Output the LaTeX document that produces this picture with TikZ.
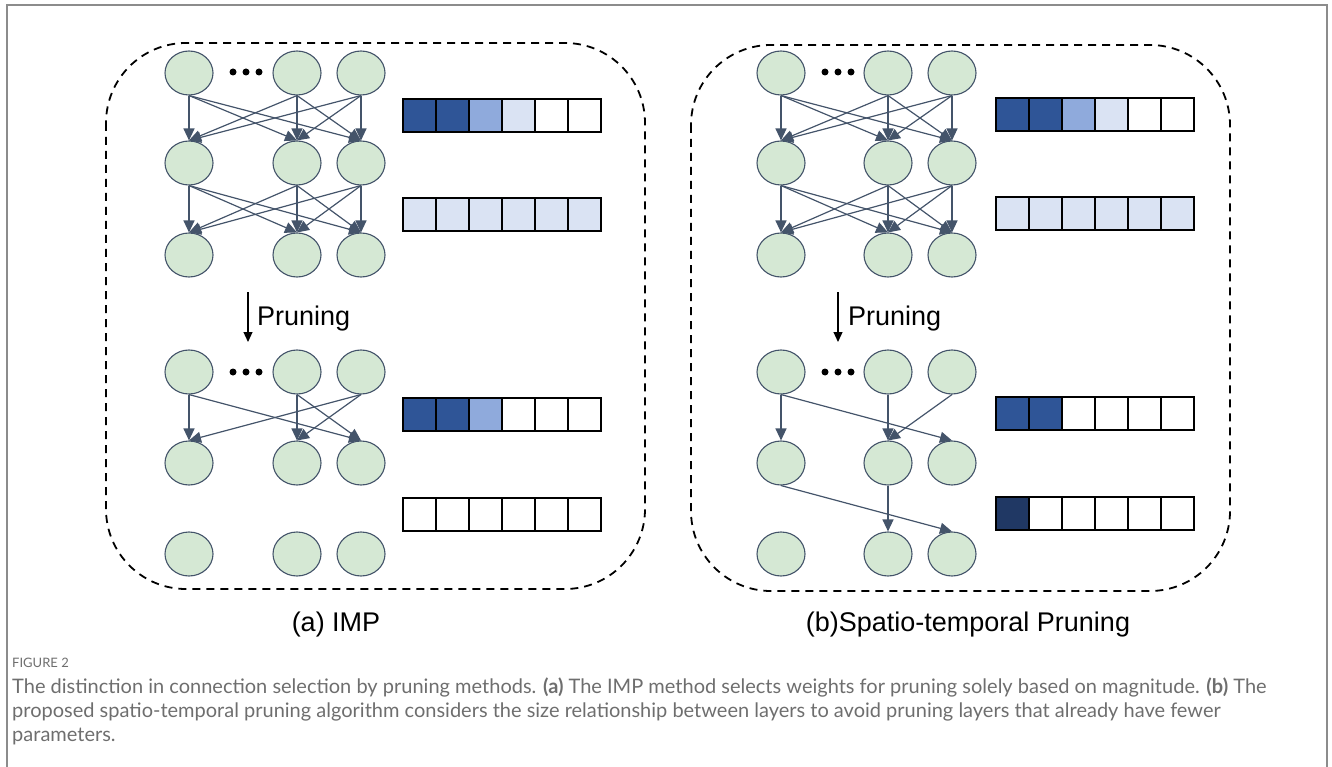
\documentclass[tikz,border=0pt]{standalone}
\usepackage{fontspec}
\setmainfont{Liberation Sans}
\newfontfamily\capfont{Lato}
\usetikzlibrary{shapes.geometric,arrows.meta}
\definecolor{nodegreen}{HTML}{D5E8D4}
\definecolor{nodeline}{HTML}{44546A}
\definecolor{wdark}{HTML}{2F5597}
\definecolor{wmid}{HTML}{8FAADC}
\definecolor{wlight}{HTML}{DAE3F3}
\definecolor{wdeep}{HTML}{203864}
\definecolor{capgray}{HTML}{6E6E6E}
\definecolor{framegray}{HTML}{8C8C8C}
% one row of weight cells: x, y, list of fills
\newcommand\weightbar[3]{%
  \foreach \f [count=\k from 0] in {#3}
    \draw[cell, fill=\f] (#1+33*\k, #2) rectangle ++(33,33);
}
\begin{document}
\begin{tikzpicture}[x=1pt, y=-1pt,
    neuron/.style = {ellipse, draw=nodeline, fill=nodegreen, line width=1.1pt,
                     minimum width=48pt, minimum height=44pt, inner sep=0pt},
    conn/.style = {draw=nodeline, line width=1.2pt, -{Triangle[length=12pt,width=11pt]}},
    prune/.style = {line width=1.2pt, -{Triangle[length=10pt,width=9pt]}},
    panel/.style = {draw, line width=1.8pt, dash pattern=on 8pt off 6pt, rounded corners=80pt},
    cell/.style = {draw, line width=1.5pt},
    sublabel/.style = {anchor=base, font=\fontsize{27}{31}\selectfont},
    captext/.style = {anchor=base west, inner sep=0pt, text=capgray, font=\capfont\fontsize{20}{24}\selectfont}]
  \useasboundingbox (0,0) rectangle (1332,767);
  \draw[framegray, line width=2pt] (7,767) -- (7,5) -- (1327,5) -- (1327,767);

  % dashed panels
  \draw[panel] (106,43) rectangle (645,589);
  \draw[panel] (691,45) rectangle (1230,591);

  % neurons: A = IMP, B = spatio-temporal, p = after pruning
  \foreach \r/\y in {1/73,2/163,3/255}
    \foreach \c/\xa/\xb in {1/189/781,2/297/888,3/361/952} {
      \node[neuron] (A\r\c) at (\xa,\y) {};
      \node[neuron] (B\r\c) at (\xb,\y) {};
    }
  \foreach \r/\y in {1/372,2/463,3/554}
    \foreach \c/\xa/\xb in {1/189/781,2/297/888,3/361/952} {
      \node[neuron] (Ap\r\c) at (\xa,\y) {};
      \node[neuron] (Bp\r\c) at (\xb,\y) {};
    }

  % dots
  \foreach \d in {44,57,70} {
    \fill (189+\d,72) circle (3.5pt);
    \fill (781+\d,72) circle (3.5pt);
    \fill (189+\d,372) circle (3.5pt);
    \fill (781+\d,372) circle (3.5pt);
  }

  % dense connections
  \foreach \r/\s in {1/2,2/3}
    \foreach \i in {1,2,3}
      \foreach \j in {1,2,3} {
        \draw[conn] (A\r\i.south) -- (A\s\j.north);
        \draw[conn] (B\r\i.south) -- (B\s\j.north);
      }

  % pruned connections
  \foreach \a/\b in {11/21,11/23,12/22,12/23,13/21,13/22}
    \draw[conn] (Ap\a.south) -- (Ap\b.north);
  \foreach \a/\b in {11/21,11/23,12/22,13/22,21/33,22/32}
    \draw[conn] (Bp\a.south) -- (Bp\b.north);

  % weight bars
  \weightbar{403}{99}{wdark,wdark,wmid,wlight,white,white}
  \weightbar{403}{198}{wlight,wlight,wlight,wlight,wlight,wlight}
  \weightbar{403}{398}{wdark,wdark,wmid,white,white,white}
  \weightbar{403}{498}{white,white,white,white,white,white}
  \weightbar{996}{98}{wdark,wdark,wmid,wlight,white,white}
  \weightbar{996}{197}{wlight,wlight,wlight,wlight,wlight,wlight}
  \weightbar{996}{397}{wdark,wdark,white,white,white,white}
  \weightbar{996}{497}{wdeep,white,white,white,white,white}

  % pruning arrows
  \coordinate (pa1) at (248,292);
  \coordinate (pa2) at (248,342);
  \coordinate (pb1) at (838,292);
  \coordinate (pb2) at (838,342);
  \draw[prune] (pa1) -- (pa2);
  \draw[prune] (pb1) -- (pb2);
  \node[anchor=base west, inner sep=0pt, font=\fontsize{27}{31}\selectfont] (prunea) at (257,325) {Pruning};
  \node[anchor=base west, inner sep=0pt, font=\fontsize{27}{31}\selectfont] (pruneb) at (848,325) {Pruning};

  % sub captions
  \node[sublabel] (capa) at (336,631) {(a) IMP};
  \node[sublabel] (capb) at (968,631) {(b)Spatio-temporal Pruning};

  % figure caption
  \node[captext, font=\capfont\fontsize{13}{16}\selectfont] (fig) at (12,667) {FIGURE 2};
  \node[captext] (cap1) at (12,693) {The distinction in connection selection by pruning methods. \textbf{(a)} The IMP method selects weights for pruning solely based on magnitude. \textbf{(b)} The};
  \node[captext] (cap2) at (12,717) {proposed spatio-temporal pruning algorithm considers the size relationship between layers to avoid pruning layers that already have fewer};
  \node[captext] (cap3) at (12,741) {parameters.};
\end{tikzpicture}
\end{document}
